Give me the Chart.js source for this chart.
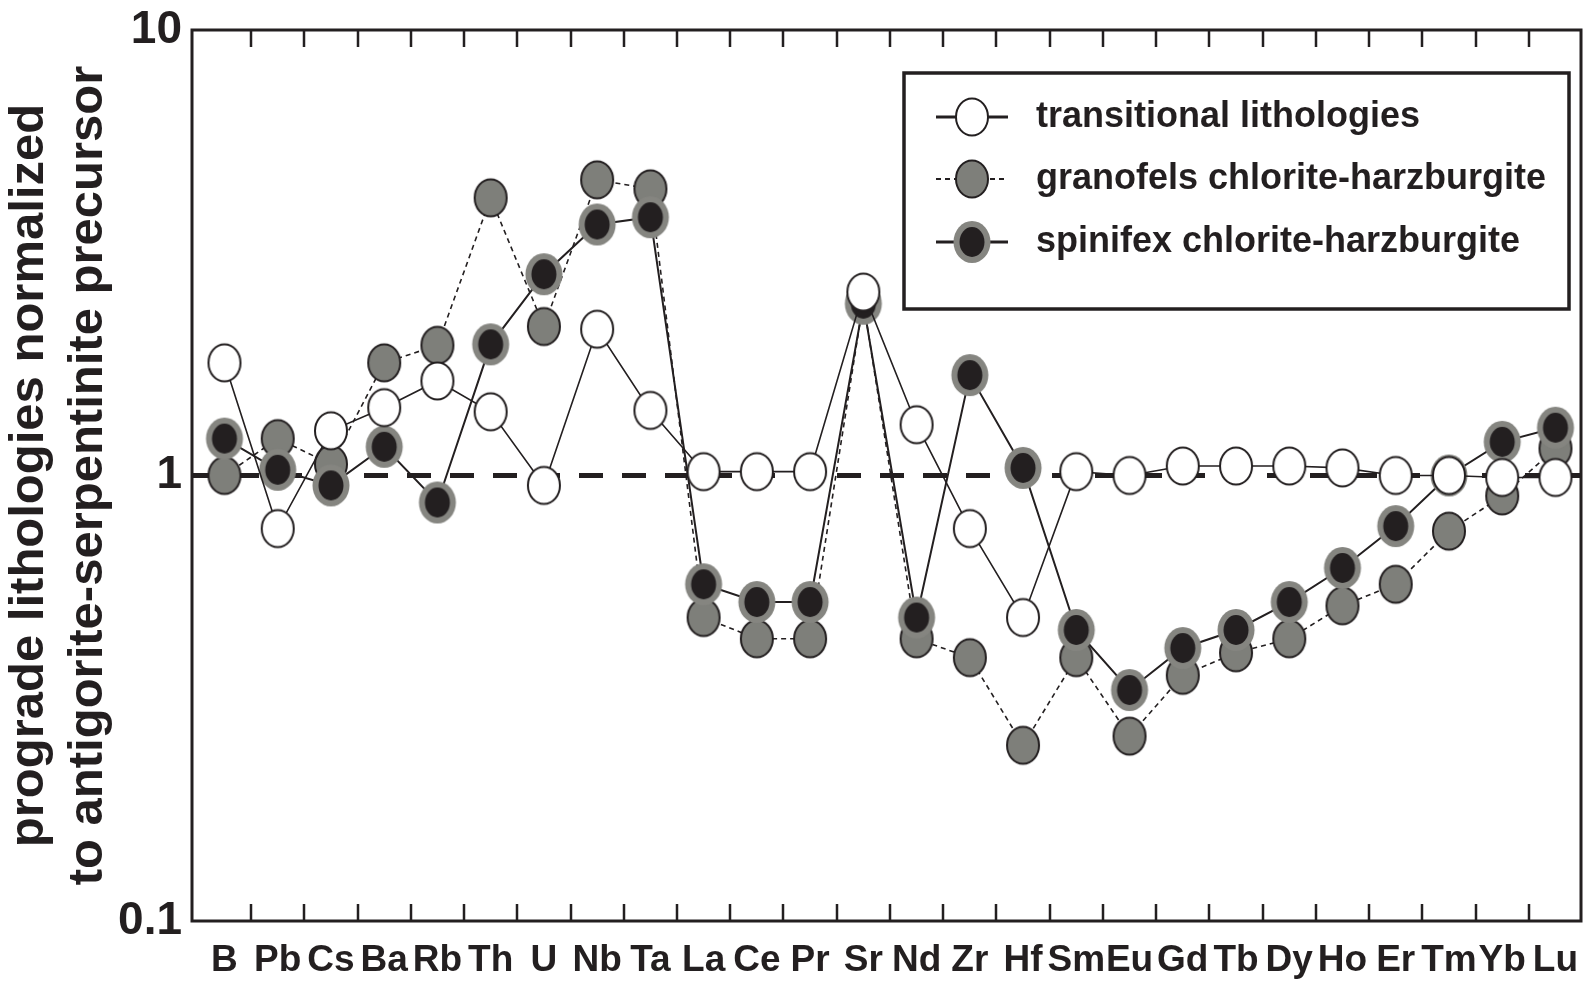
<!DOCTYPE html>
<html>
<head>
<meta charset="utf-8">
<script src="https://cdn.jsdelivr.net/npm/chart.js@4.4.0/dist/chart.umd.min.js"></script>
<style>
    html, body { margin: 0; padding: 0; background: #fff; }
</style>
</head>
<body>
<canvas id="spiderChart" width="1587" height="982"></canvas>
<script>
// Data
var elements = ['B', 'Pb', 'Cs', 'Ba', 'Rb', 'Th', 'U', 'Nb', 'Ta', 'La', 'Ce', 'Pr', 'Sr',
    'Nd', 'Zr', 'Hf', 'Sm', 'Eu', 'Gd', 'Tb', 'Dy', 'Ho', 'Er', 'Tm', 'Yb', 'Lu'];
var transitional = [1.79, 0.76, 1.26, 1.42, 1.63, 1.39, 0.95, 2.13, 1.40, 1.02, 1.02, 1.02, 2.58,
    1.30, 0.76, 0.48, 1.02, 1.00, 1.05, 1.05, 1.05, 1.04, 1.00, 1.00, 0.99, 0.99];
var granofels = [1.00, 1.21, 1.06, 1.79, 1.96, 4.20, 2.16, 4.61, 4.40, 0.48, 0.43, 0.43, 2.46,
    0.43, 0.39, 0.248, 0.39, 0.26, 0.356, 0.40, 0.43, 0.51, 0.57, 0.75, 0.90, 1.15];
var spinifex = [1.21, 1.03, 0.95, 1.16, 0.87, 1.97, 2.83, 3.66, 3.80, 0.57, 0.52, 0.52, 2.43,
    0.48, 1.68, 1.04, 0.45, 0.33, 0.41, 0.45, 0.52, 0.62, 0.77, 1.00, 1.19, 1.28];
var seriesNames = ['transitional lithologies', 'granofels chlorite-harzburgite', 'spinifex chlorite-harzburgite'];
var yTicks = [0.1, 1, 10];
var refValue = 1;
var yTitle = ['prograde lithologies normalized', 'to antigorite-serpentinite precursor'];

var ink = '#231f20';
var grey = '#7e7f7a';
var halo = '#858580';

// Oval marker images (the symbols are slightly taller than wide)
function makeMarker(kind) {
    var c = document.createElement('canvas');
    c.width = 42;
    c.height = 48;
    var g = c.getContext('2d');
    var cx = 21, cy = 24;
    if (kind === 'spinifex') {
        g.fillStyle = halo;
        g.beginPath();
        g.ellipse(cx, cy, 18.5, 21, 0, 0, Math.PI * 2);
        g.fill();
        g.fillStyle = ink;
        g.beginPath();
        g.ellipse(cx, cy, 12.5, 15, 0, 0, Math.PI * 2);
        g.fill();
    } else {
        g.fillStyle = kind === 'open' ? '#ffffff' : grey;
        g.strokeStyle = ink;
        g.lineWidth = 2;
        g.beginPath();
        g.ellipse(cx, cy, 16, 18.5, 0, 0, Math.PI * 2);
        g.fill();
        g.stroke();
    }
    return c;
}

var openMarker = makeMarker('open');
var greyMarker = makeMarker('grey');
var spinMarker = makeMarker('spinifex');

function toPoints(values) {
    return values.map(function (v, i) {
        return { x: i, y: v };
    });
}

// Frame, inward ticks and the dashed reference line
var framePlugin = {
    id: 'frame',
    beforeDatasetsDraw: function (chart) {
        var ctx = chart.ctx;
        var area = chart.chartArea;
        var y = chart.scales.y.getPixelForValue(refValue);
        ctx.save();
        ctx.strokeStyle = ink;
        ctx.lineWidth = 5;
        ctx.setLineDash([24, 19]);
        ctx.beginPath();
        ctx.moveTo(area.left, y);
        ctx.lineTo(area.right, y);
        ctx.stroke();
        ctx.restore();
    },
    afterDraw: function (chart) {
        var ctx = chart.ctx;
        var area = chart.chartArea;
        var xs = chart.scales.x;
        ctx.save();
        ctx.strokeStyle = ink;
        ctx.lineWidth = 2.5;
        for (var i = 0; i < elements.length - 1; i++) {
            var x = Math.round(xs.getPixelForValue(i + 0.5));
            ctx.beginPath();
            ctx.moveTo(x, area.top);
            ctx.lineTo(x, area.top + 17);
            ctx.moveTo(x, area.bottom);
            ctx.lineTo(x, area.bottom - 17);
            ctx.stroke();
        }
        ctx.lineWidth = 3;
        ctx.strokeRect(area.left, area.top, area.right - area.left, area.bottom - area.top);
        ctx.restore();
    }
};

// Boxed legend in the upper right
var legendPlugin = {
    id: 'boxLegend',
    afterDraw: function (chart) {
        var ctx = chart.ctx;
        var area = chart.chartArea;
        var left = area.left + 712, top = area.top + 43;
        var right = area.right - 12, bottom = area.top + 279;
        var rows = [top + 44, top + 106, top + 169];
        var lineW = [3, 2, 3];
        ctx.save();
        ctx.fillStyle = '#fff';
        ctx.fillRect(left, top, right - left, bottom - top);
        ctx.strokeStyle = ink;
        ctx.lineWidth = 3.5;
        ctx.strokeRect(left, top, right - left, bottom - top);
        chart.data.datasets.forEach(function (ds) {
            var idx = ds.legendRow;
            var y = rows[idx];
            ctx.strokeStyle = ink;
            ctx.lineWidth = lineW[idx];
            ctx.setLineDash(idx === 1 ? [5, 4] : []);
            ctx.beginPath();
            ctx.moveTo(left + 32, y);
            ctx.lineTo(left + 104, y);
            ctx.stroke();
            ctx.setLineDash([]);
            var m = ds.pointStyle;
            ctx.drawImage(m, left + 68 - m.width / 2, y - m.height / 2);
            ctx.fillStyle = ink;
            ctx.font = 'bold 36px "Liberation Sans", Arial, sans-serif';
            ctx.textBaseline = 'middle';
            ctx.textAlign = 'left';
            ctx.fillText(ds.label, left + 132, y);
        });
        ctx.restore();
    }
};

var ctx = document.getElementById('spiderChart').getContext('2d');
var spiderChart = new Chart(ctx, {
    type: 'line',
    data: {
        datasets: [{
            label: seriesNames[0],
            legendRow: 0,
            data: toPoints(transitional),
            borderColor: ink,
            borderWidth: 1.6,
            pointStyle: openMarker,
            order: 0
        }, {
            label: seriesNames[2],
            legendRow: 2,
            data: toPoints(spinifex),
            borderColor: ink,
            borderWidth: 2,
            pointStyle: spinMarker,
            order: 1
        }, {
            label: seriesNames[1],
            legendRow: 1,
            data: toPoints(granofels),
            borderColor: ink,
            borderWidth: 1.6,
            borderDash: [5, 4],
            pointStyle: greyMarker,
            order: 2
        }]
    },
    options: {
        responsive: false,
        animation: false,
        events: [],
        clip: false,
        layout: {
            padding: { top: 30, right: 3, left: 0, bottom: 0 }
        },
        elements: {
            line: { tension: 0, fill: false },
            // marker images set their own size; keep the radius small so no extra layout padding is added
            point: { radius: 1, borderWidth: 0 }
        },
        plugins: {
            legend: { display: false },
            tooltip: { enabled: false }
        },
        scales: {
            x: {
                type: 'linear',
                min: -0.61,
                max: 25.48,
                afterBuildTicks: function (scale) {
                    scale.ticks = elements.map(function (e, i) {
                        return { value: i };
                    });
                },
                afterFit: function (scale) {
                    scale.height = 61;
                    scale.paddingLeft = 0;
                    scale.paddingRight = 0;
                },
                grid: { display: false, drawTicks: false },
                border: { display: false },
                ticks: {
                    autoSkip: false,
                    maxRotation: 0,
                    padding: 18,
                    color: ink,
                    font: { family: '"Liberation Sans", Arial, sans-serif', size: 37, weight: 'bold' },
                    callback: function (value) {
                        return elements[value];
                    }
                }
            },
            y: {
                type: 'logarithmic',
                min: 0.1,
                max: 10,
                afterBuildTicks: function (scale) {
                    scale.ticks = yTicks.map(function (v) {
                        return { value: v };
                    });
                },
                afterFit: function (scale) {
                    scale.width = 192;
                    scale.paddingTop = 0;
                    scale.paddingBottom = 0;
                },
                grid: { display: false, drawTicks: false },
                border: { display: false },
                ticks: {
                    padding: 10,
                    color: ink,
                    font: { family: '"Liberation Sans", Arial, sans-serif', size: 46, weight: 'bold' },
                    callback: function (value) {
                        return String(value);
                    }
                },
                title: {
                    display: true,
                    text: yTitle,
                    color: ink,
                    padding: 0,
                    font: { family: '"Liberation Sans", Arial, sans-serif', size: 49, weight: 'bold', lineHeight: 1.2 }
                }
            }
        }
    },
    plugins: [framePlugin, legendPlugin]
});
</script>
</body>
</html>
